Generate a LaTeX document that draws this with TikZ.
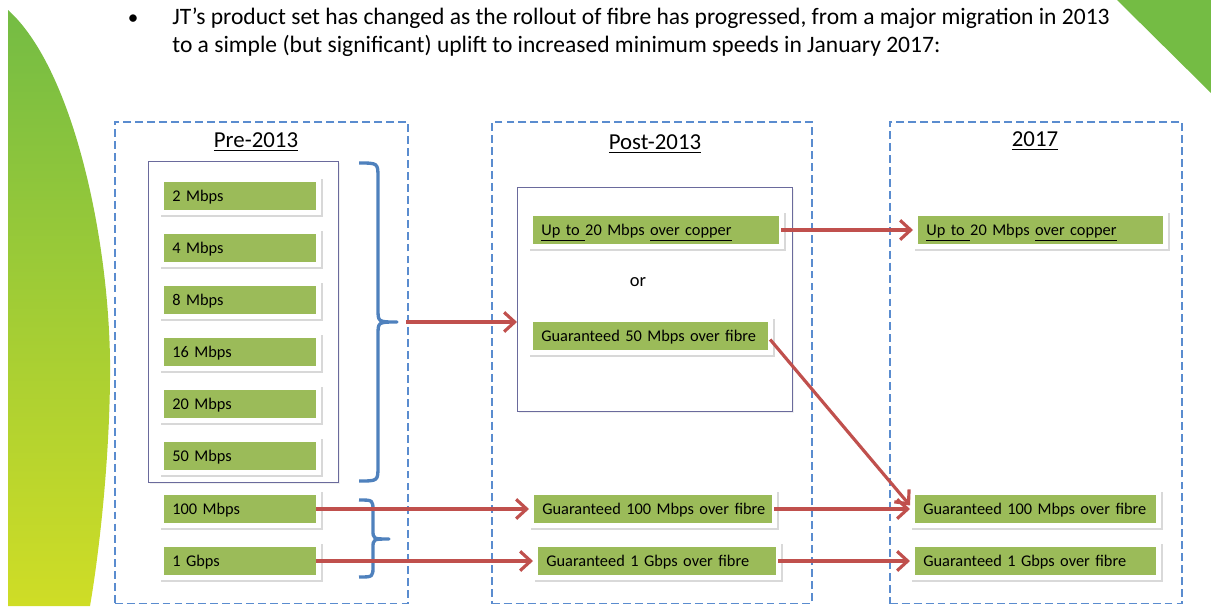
\documentclass[tikz,border=0pt]{standalone}
\usepackage{fontspec}
\setmainfont{Carlito}
\usetikzlibrary{arrows.meta,shadows,positioning}

\definecolor{bargreen}{HTML}{9BBB59}
\definecolor{flowred}{HTML}{C0504D}
\definecolor{bracebl}{HTML}{4F81BD}
\definecolor{panelbl}{HTML}{5A8CCF}
\definecolor{groupln}{HTML}{6A6A9C}
\definecolor{leafgreen}{HTML}{74BC44}
\definecolor{leafyellow}{HTML}{CFDD26}

\tikzset{
  bar/.style={fill=white, text width=#1, align=left, inner xsep=0.26cm, inner ysep=0pt,
    minimum height=0.76cm, anchor=west, text depth=0.6pt,
    execute at begin node=\hbox\bgroup, execute at end node=\egroup,
    drop shadow={opacity=0.3, shadow xshift=0.8pt, shadow yshift=-0.9pt},
    path picture={\fill[bargreen] ([xshift=2.8pt,yshift=2.8pt]path picture bounding box.south west)
      rectangle ([xshift=-2.8pt,yshift=-2.8pt]path picture bounding box.north east);},
    font=\fontsize{9.3}{11}\selectfont},
  panel/.style={draw=panelbl, dash pattern=on 4.5pt off 2.3pt, line width=0.9pt,
    minimum width=#1, minimum height=9.64cm, inner sep=0pt, anchor=north west},
  group/.style={draw=groupln, line width=0.6pt, fill=white, inner sep=0pt, anchor=north west,
    drop shadow={opacity=0.12, shadow xshift=0.8pt, shadow yshift=-0.8pt}},
  heading/.style={font=\fontsize{13}{15}\selectfont},
  flow/.style={draw=flowred, line width=1.8pt, -{Straight Barb[length=6pt,width=11pt]}},
  curly/.style={draw=bracebl, line width=1.9pt, line join=round}
}

\begin{document}
\begin{tikzpicture}[x=0.02cm,y=-0.02cm]
\useasboundingbox (0,0) rectangle (1211,606);

% background leaf and corner
\shade[top color=leafgreen, bottom color=leafyellow]
  (8,10) .. controls (75,70) and (112,250) .. (110,380)
  .. controls (109,470) and (98,560) .. (90,606) -- (8,606) -- cycle;
\fill[leafgreen] (1117,0) -- (1211,0) -- (1211,93) -- cycle;

% intro text
\node[font=\fontsize{12}{14}\selectfont] (bullet) at (133,20) {\textbullet};
\node[font=\fontsize{13.4}{15.4}\selectfont, anchor=north west, align=left, inner sep=0pt] (intro) at (172,8)
  {JT’s product set has changed as the rollout of fibre has progressed, from a major migration in 2013\\
   to a simple (but significant) uplift to increased minimum speeds in January 2017:};

% the three columns
\node[panel=5.86cm] (prepanel) at (114,121) {};
\node[panel=6.4cm] (postpanel) at (491,121) {};
\node[panel=5.84cm] (newpanel) at (889,121) {};

\node[heading] (pretitle) at (256,142) {\underline{Pre-2013}};
\node[heading] (posttitle) at (655,144) {\underline{Post-2013}};
\node[heading] (newtitle) at (1035,141) {\underline{2017}};

\node[group, minimum width=3.8cm, minimum height=6.42cm] (pregroup) at (148,161) {};
\node[group, minimum width=5.5cm, minimum height=4.48cm] (postgroup) at (517,187) {};

% Pre-2013 speeds
\foreach \y/\speed [count=\i] in {196/2 Mbps, 248/4 Mbps, 300/8 Mbps,
                                  352/16 Mbps, 404/20 Mbps, 456/50 Mbps}
    \node[bar=2.72cm] (pre\i) at (159,\y) {\speed};
\node[bar=2.72cm] (prehundred) at (159,509) {100 Mbps};
\node[bar=2.72cm] (pregig) at (159,561) {1 Gbps};

% Post-2013 products
\node[bar=4.60cm] (postcopper) at (528,230) {\underline{Up to\ }20 Mbps \underline{over copper}};
\node[font=\fontsize{10.5}{12}\selectfont] (ortext) at (638,282) {or};
\node[bar=4.38cm] (postfifty) at (528,336) {Guaranteed 50 Mbps over fibre};
\node[bar=4.44cm] (posthundred) at (529,509) {Guaranteed 100 Mbps over fibre};
\node[bar=4.44cm] (postgig) at (533,561) {Guaranteed 1 Gbps over fibre};

% 2017 products
\node[bar=4.58cm] (newcopper) at (913,230) {\underline{Up to\ }20 Mbps \underline{over copper}};
\node[bar=4.50cm] (newhundred) at (910,509) {Guaranteed 100 Mbps over fibre};
\node[bar=4.50cm] (newgig) at (910,561) {Guaranteed 1 Gbps over fibre};

% braces
\draw[curly] (359,163) .. controls (378,163) .. (378,178) -- (378,309)
  .. controls (378,322) .. (397,322) .. controls (378,322) .. (378,335)
  -- (378,466) .. controls (378,481) .. (359,481);
\draw[curly] (359,500) .. controls (373,500) .. (373,511) -- (373,530)
  .. controls (373,539) .. (389,539) .. controls (373,539) .. (373,548)
  -- (373,566) .. controls (373,577) .. (359,577);
\coordinate (bigtip) at (406,322);

% migrations
\draw[flow] (bigtip) -- (bigtip -| postgroup.west);
\draw[flow] ([xshift=-3pt]prehundred.east) -- (posthundred.west);
\draw[flow] ([xshift=-3pt]pregig.east) -- (postgig.west);
\draw[flow] ([xshift=-2pt]postcopper.east) -- (newcopper.west);
\draw[flow] ([xshift=-2pt,yshift=-2pt]postfifty.east) -- ([yshift=2pt]newhundred.west);
\draw[flow] ([xshift=-2pt]posthundred.east) -- (newhundred.west);
\draw[flow] ([xshift=-2pt]postgig.east) -- (newgig.west);
\end{tikzpicture}
\end{document}
